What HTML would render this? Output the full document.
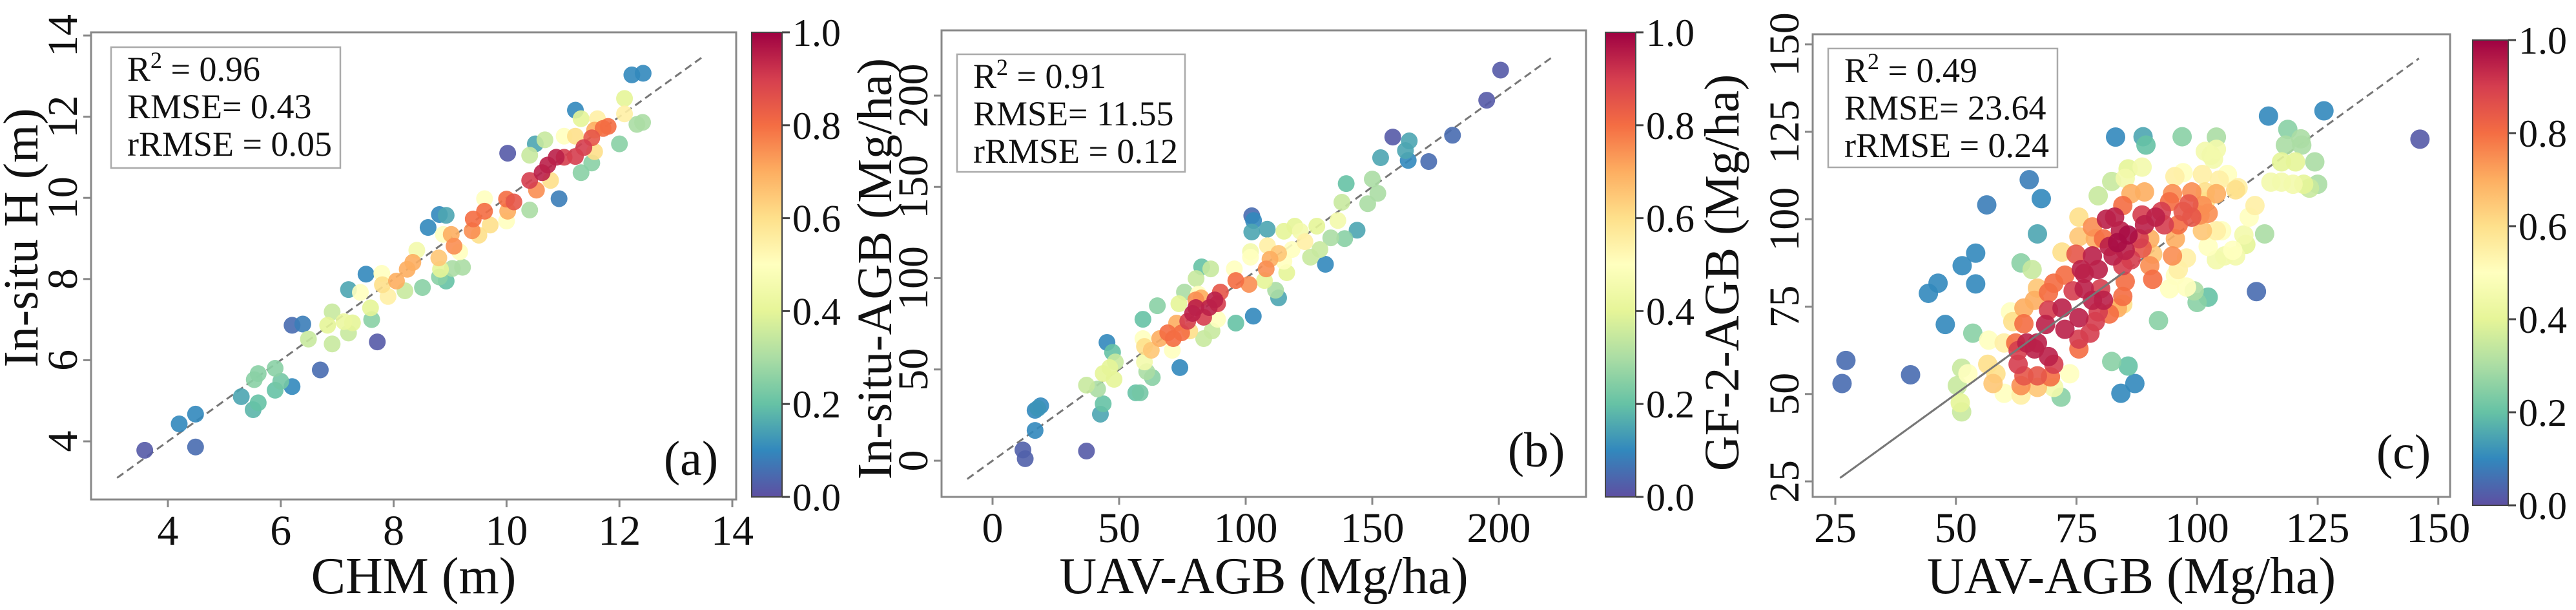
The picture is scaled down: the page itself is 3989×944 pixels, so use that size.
<!DOCTYPE html>
<html><head><meta charset="utf-8"><style>
html,body{margin:0;padding:0;background:#fff;}
svg{display:block;}
svg text{font-family:"Liberation Serif","DejaVu Serif",serif;}
</style></head><body>
<svg id="fig" width="3989" height="944" viewBox="0 0 3989 944" xmlns="http://www.w3.org/2000/svg" font-family="Liberation Serif, DejaVu Serif, serif">
<defs>
<linearGradient id="cmap" x1="0" y1="1" x2="0" y2="0">
<stop offset="0" stop-color="#5e4fa2"/><stop offset="0.1" stop-color="#3288bd"/><stop offset="0.2" stop-color="#66c2a5"/><stop offset="0.3" stop-color="#abdda4"/><stop offset="0.4" stop-color="#e6f598"/><stop offset="0.5" stop-color="#ffffbf"/><stop offset="0.6" stop-color="#fee08b"/><stop offset="0.7" stop-color="#fdae61"/><stop offset="0.8" stop-color="#f46d43"/><stop offset="0.9" stop-color="#d53e4f"/><stop offset="1" stop-color="#9e0142"/>
</linearGradient>
</defs>
</svg>
<script>
const aTicks=[4,6,8,10,12,14];
const bTicks=[0,50,100,150,200];
const cTicks=[25,50,75,100,125,150];
const cbarTicks=[0.0,0.2,0.4,0.6,0.8,1.0];
const aPts=[[3.59,3.78,.02],[4.49,3.86,.05],[4.2,4.43,.1],[4.49,4.67,.1],[5.3,5.1,.15],[5.51,4.78,.18],[5.6,4.95,.2],[5.53,5.52,.25],[5.6,5.67,.25],[5.9,5.8,.25],[5.9,5.26,.2],[6.0,5.48,.22],[6.2,5.35,.1],[6.7,5.76,.05],[6.2,6.86,.05],[6.39,6.89,.08],[6.49,6.52,.35],[6.91,6.4,.35],[6.91,7.19,.35],[6.83,6.86,.4],[7.12,6.95,.42],[7.27,6.92,.4],[7.2,6.67,.35],[7.2,7.74,.15],[7.41,7.67,.5],[7.59,7.29,.4],[7.61,7.0,.25],[7.71,6.45,.02],[7.51,8.12,.1],[7.79,8.14,.5],[7.8,7.86,.6],[7.9,7.57,.55],[8.05,7.95,.7],[8.24,8.24,.7],[8.34,8.41,.7],[8.2,7.71,.35],[8.41,8.71,.45],[8.51,7.79,.25],[8.8,8.52,.65],[8.83,8.24,.4],[8.81,8.05,.25],[8.93,7.95,.2],[9.04,8.26,.3],[9.22,8.29,.3],[8.88,9.1,.5],[9.02,9.1,.7],[9.07,8.81,.75],[9.17,8.67,.5],[8.81,9.59,.1],[8.93,9.57,.15],[8.61,9.27,.1],[9.39,9.19,.75],[9.51,9.08,.6],[9.41,9.48,.8],[9.61,9.67,.8],[9.71,9.33,.6],[9.61,9.98,.5],[10.0,9.97,.8],[10.13,9.9,.85],[10.02,9.67,.7],[10.0,9.43,.5],[10.41,9.7,.3],[10.93,9.98,.08],[10.02,11.1,.02],[10.41,11.05,.35],[10.51,11.33,.15],[10.68,11.43,.35],[10.41,10.43,.9],[10.53,10.19,.75],[10.63,10.62,.95],[10.73,10.81,.95],[10.88,11.0,.95],[11.02,11.0,.9],[10.78,10.43,.6],[11.02,11.52,.5],[11.22,11.52,.6],[11.37,11.24,.9],[11.22,11.02,.9],[11.51,11.48,.85],[11.56,11.67,.7],[11.71,11.71,.8],[11.8,11.76,.8],[11.61,11.95,.55],[11.32,11.95,.4],[11.32,10.62,.25],[11.51,10.86,.25],[11.56,11.14,.6],[11.22,12.16,.1],[12.0,11.33,.25],[12.09,12.07,.55],[12.09,12.45,.4],[12.31,11.81,.3],[12.41,11.86,.3],[12.22,13.03,.1],[12.42,13.07,.1]];
const bPts=[[12,5.9,.03],[12.9,1.1,.03],[37.1,5.3,.02],[16.8,16.6,.1],[16.8,27.6,.1],[19,30.1,.1],[17.9,28.7,.12],[42.6,25.5,.15],[43.7,31.2,.2],[41.5,39.3,.3],[37.1,41.4,.35],[43.7,47.8,.4],[48,44.6,.4],[46.3,51,.4],[48.5,54.1,.35],[47.4,59.4,.2],[45.2,64.8,.1],[56.6,37.2,.2],[58.3,37.2,.22],[63.1,45.6,.25],[60.9,48.8,.3],[60,54.1,.45],[59.4,66.9,.5],[60,62.6,.6],[62.7,60.5,.65],[74,51,.1],[71,60.5,.5],[66,66.9,.7],[69.2,70.1,.8],[71.4,66.9,.8],[74.7,70.1,.8],[77.9,71.1,.6],[83.4,66.9,.35],[86.7,71.1,.35],[59.4,77.5,.2],[65.1,84.9,.25],[72.7,75.4,.7],[77.1,76.4,.9],[79,80.7,.95],[80.3,83.9,.95],[83.4,78.6,.9],[85.6,83.9,.95],[87.8,88.1,.95],[88.9,86,.9],[90,92.4,.85],[82.4,89.2,.7],[80.3,88.1,.75],[81.3,91.3,.5],[75.8,92.4,.3],[73.6,86,.4],[86.2,105.1,.35],[82.6,106.2,.2],[80.4,99.8,.35],[88.9,77.5,.5],[96.1,75.4,.2],[103,79.2,.1],[96.1,98.7,.8],[101.3,96.6,.75],[95.5,105.1,.5],[101.9,114.6,.45],[101.9,111.5,.5],[107.4,98.7,.4],[108.1,105.1,.75],[109.6,110.4,.7],[113,113.6,.65],[108.6,117.8,.55],[111.8,93.4,.3],[113,89.2,.15],[116.2,103,.4],[115.1,109.3,.5],[118.3,115.7,.5],[125.6,111.5,.35],[129.3,115.7,.35],[123.4,120,.55],[121.6,125.7,.45],[115.1,125.7,.4],[119.4,128.5,.4],[128.1,128.5,.4],[133.6,122.1,.3],[136.4,131.6,.45],[131.5,107.6,.1],[139.1,121.7,.25],[102.4,134.2,.05],[103.1,131.6,.1],[102.4,125.3,.15],[108.5,126.8,.15],[138,141.6,.35],[144,126.3,.15],[139.7,151.8,.2],[148.2,140.8,.3],[152.2,146.5,.3],[150,154.3,.3],[153.3,166,.15],[164.2,164.5,.1],[163.1,169.9,.15],[164.6,175.2,.15],[158.1,177.3,.02],[172.3,163.9,.05],[181.7,178.3,.05],[195.2,197.5,.02],[200.7,214,.02]];
const cPts=[[26.4,53,.05],[27.2,59.6,.05],[40.6,55.5,.05],[44.3,78.8,.1],[46.3,81.7,.1],[47.8,69.9,.1],[51.3,86.7,.1],[54.1,90.3,.1],[54.1,81.5,.1],[56.4,104.1,.08],[65.2,111.3,.08],[67.7,105.9,.1],[66.9,95.8,.15],[83.1,123.5,.1],[88.8,123.6,.15],[89.4,121.2,.2],[96.9,123.6,.25],[104,123.5,.3],[114.8,129.5,.1],[126.3,131,.1],[118.8,125.7,.25],[121.5,123,.3],[118.3,121.2,.3],[121.7,121.2,.3],[146.2,122.9,.02],[112.3,79.3,.05],[100,76.2,.25],[102.3,77.7,.2],[99.4,79.5,.3],[92,71,.25],[82.3,59.3,.25],[85.7,58,.2],[87.1,53,.1],[84.2,50.2,.1],[71.8,49.1,.25],[53.5,67.4,.25],[63.5,87.5,.25],[65.8,85.6,.35],[79.5,106.7,.35],[82.3,110.8,.35],[85.7,114.4,.4],[88.6,114.9,.45],[85.1,111.7,.45],[50.3,52.4,.35],[51.2,57.4,.35],[50.9,47.5,.4],[51.2,44.9,.35],[56.8,65.4,.5],[52.5,55.8,.5],[70.3,51.9,.45],[73.6,55.8,.5],[57.7,53,.65],[58.3,55.8,.6],[56.6,58.5,.6],[60,50.2,.5],[63.5,49.7,.55],[63.5,52.4,.75],[64.1,55.2,.85],[62.9,58.5,.9],[62.9,62.4,.9],[66.3,62.9,.95],[66.9,64.6,.95],[69.2,60.7,.95],[70.3,58.5,.9],[66.9,55.2,.85],[69.6,54.9,.8],[66.9,51.9,.65],[64.7,64.6,.95],[62.4,64.6,.8],[61.8,70.7,.6],[64.1,70.1,.8],[61.3,73.5,.5],[64.1,74.6,.7],[66.3,76.8,.7],[68.6,69.9,.95],[69.2,74,.9],[69.2,79,.8],[66.9,80.3,.65],[70.3,81.7,.8],[72.6,84,.8],[74.3,79.5,.9],[72,74.6,.95],[72.6,68.5,.95],[75.5,71.8,.95],[75.5,65.7,.9],[75.5,62.9,.8],[77.8,67.4,.9],[78.9,70.7,.9],[79.5,73.5,.9],[81.8,72.9,.8],[80.6,76.8,.95],[78.3,76.8,.95],[76.6,80.1,.95],[80,80.1,.9],[76.6,84.5,.95],[79.5,85.6,.95],[76,85.6,.95],[78.3,89.5,.95],[74.9,90,.85],[72,90.6,.6],[75.5,95,.65],[78.3,97.8,.75],[78.9,94.4,.7],[80.6,94.4,.8],[81.2,100,.95],[82.9,100.6,.95],[84.1,96.7,.95],[81.8,92.2,.95],[83.5,93.3,.98],[85.7,95.5,.98],[85.1,91.1,.95],[82.6,89.5,.95],[86.3,88.4,.9],[84.6,86.7,.9],[88,94.4,.9],[88.6,91.7,.85],[84.6,103.9,.8],[86.3,107.3,.7],[89.1,107.8,.7],[88.6,101.2,.9],[89.1,98.4,.95],[91.4,100.6,.95],[93.2,98.4,.9],[92.6,102.2,.9],[94.3,105,.8],[94.9,107.3,.75],[97.1,102.2,.85],[98.3,104.4,.85],[98.9,107.8,.75],[98.9,100.6,.85],[96.1,98.4,.8],[95.5,94.4,.7],[94.9,89.5,.75],[96.1,85.6,.55],[97.8,88.9,.55],[90.2,86.7,.75],[90.8,82.8,.8],[90.8,90,.65],[85.1,82.2,.8],[84.6,77.9,.8],[83.5,74.6,.7],[84.6,75.7,.6],[90.2,94.4,.7],[94.3,80.1,.5],[97.8,80.6,.5],[100.6,101.2,.75],[101.1,103.9,.75],[101.7,105,.6],[102.3,101.7,.75],[101.1,96.7,.65],[104,96.7,.55],[105.1,96.7,.5],[102.3,92.2,.5],[104,88.4,.45],[105.7,89.5,.45],[108,89.5,.45],[107.4,91.1,.5],[109.7,95.5,.45],[110.8,100.6,.5],[112,103.9,.55],[110.1,92.8,.4],[114,95.8,.3],[95.5,83.9,.5],[101.7,107.8,.6],[104,107.3,.7],[104.6,111.2,.55],[106.3,112.8,.5],[108,108.4,.6],[108.5,109,.55],[101.1,112.8,.55],[95.4,112.2,.55],[97.1,113.3,.5],[101.7,119.4,.45],[102.9,118.3,.4],[104,120,.45],[103.4,117.2,.45],[115.3,110.6,.45],[117.5,110.6,.45],[119.9,110,.45],[122.1,110,.4],[125,110,.3],[123.3,108.9,.35],[117.5,116.4,.4],[120.4,116.4,.4],[124.4,116.4,.3],[75.5,100.6,.6],[60,64.6,.55]];

const NS="http://www.w3.org/2000/svg";
const FONT="Liberation Serif, DejaVu Serif, serif";
const svg=document.getElementById('fig');
function mk(tag,attrs,parent){const e=document.createElementNS(NS,tag);for(const k in attrs)e.setAttribute(k,attrs[k]);if(tag==='text')e.setAttribute('font-family',FONT);(parent||svg).appendChild(e);return e;}
const stops=[[0,[94,79,162]],[.1,[50,136,189]],[.2,[102,194,165]],[.3,[171,221,164]],[.4,[230,245,152]],[.5,[255,255,191]],[.6,[254,224,139]],[.7,[253,174,97]],[.8,[244,109,67]],[.9,[213,62,79]],[1,[158,1,66]]];
function cmap(v){v=Math.max(0,Math.min(1,v));for(let i=0;i<stops.length-1;i++){const a=stops[i],b=stops[i+1];if(v<=b[0]){const t=(v-a[0])/(b[0]-a[0]);const c=a[1].map((x,j)=>Math.round(x+(b[1][j]-x)*t));return `rgb(${c[0]},${c[1]},${c[2]})`;}}return 'rgb(158,1,66)';}

function panel(p){
  const g=mk('g',{});
  
  
  const sx=v=>p.x0+(v-p.xv0)*p.xk, sy=v=>p.y0-(v-p.yv0)*p.yk;
  const fr=mk('rect',{x:p.L,y:p.T,width:p.R-p.L,height:p.B-p.T,fill:'#fff',stroke:'#888','stroke-width':3},g);
  
  
  const ln=mk('line',{x1:sx(p.l0),y1:sy(p.l0),x2:sx(p.l1),y2:sy(p.l1),stroke:'#777','stroke-width':3,'stroke-dasharray':'12,7'},g);
  
  
  const pts=p.pts.slice().sort((a,b)=>a[2]-b[2]);
  pts.forEach(d=>{
    const c=mk('circle',{cx:sx(d[0]),cy:sy(d[1]),r:p.r,fill:cmap(d[2]),'fill-opacity':0.9},g);
    
    
  });
  if(p.solidTo!==undefined){
    const s=mk('line',{x1:sx(p.l0),y1:sy(p.l0),x2:sx(p.solidTo),y2:sy(p.solidTo),stroke:'#777','stroke-width':3},g);
    
    
  }
  p.xt.forEach(v=>{
    const x=sx(v);
    mk('line',{x1:x,y1:p.B,x2:x,y2:p.B+12,stroke:'#888','stroke-width':3},g);
    const t=mk('text',{x:x,y:p.B+70,'font-size':66,'text-anchor':'middle',fill:'#111'},g);
    t.textContent=v;
    
    
  });
  p.yt.forEach(v=>{
    const y=sy(v);
    mk('line',{x1:p.L-12,y1:y,x2:p.L,y2:y,stroke:'#888','stroke-width':3},g);
    const tx=p.L-22;
    const t=mk('text',{x:tx,y:y,'font-size':66,'text-anchor':'middle',fill:'#111',transform:`rotate(-90 ${tx} ${y})`},g);
    t.textContent=v;
    
    
  });
  const xl=mk('text',{x:(p.L+p.R)/2,y:918,'font-size':80,'text-anchor':'middle',fill:'#111'},g);
  xl.textContent=p.xlab;
  
  
  const yl=mk('text',{x:p.ytx,y:p.yty,'font-size':76,'text-anchor':'middle',fill:'#111',transform:`rotate(-90 ${p.ytx} ${p.yty})`},g);
  yl.textContent=p.ylab;
  
  
  const bx=mk('rect',{x:p.bx[0],y:p.bx[1],width:p.bx[2]-p.bx[0],height:p.bx[3]-p.bx[1],fill:'#fff',stroke:'#aaa','stroke-width':2.5},g);
  
  
  p.stats.forEach((s,i)=>{
    const t=mk('text',{x:p.bx[0]+25,y:p.bx[1]+52+i*58,'font-size':54,fill:'#111'},g);
    if(i===0){t.innerHTML='R<tspan dy="-20" font-size="36">2</tspan><tspan dy="20"> = '+s+'</tspan>';}
    else t.textContent=s;
    
    
  });
  const pl=mk('text',{x:p.pl[0],y:p.pl[1],'font-size':76,'text-anchor':'middle',fill:'#111'},g);
  pl.textContent=p.plab;
  
  
  const cb=mk('rect',{x:p.cb[0],y:p.cb[1],width:p.cb[2]-p.cb[0],height:p.cb[3]-p.cb[1],fill:'url(#cmap)',stroke:'#444','stroke-width':2},g);
  
  
  cbarTicks.forEach(v=>{
    const y=p.cb[3]-v*(p.cb[3]-p.cb[1]);
    mk('line',{x1:p.cb[2],y1:y,x2:p.cb[2]+12,y2:y,stroke:'#444','stroke-width':3},g);
    const t=mk('text',{x:p.cb[2]+16,y:y+21,'font-size':60,fill:'#111'},g);
    t.textContent=v.toFixed(1);
    
    
  });
}
panel({name:'panel-a',L:141,R:1140,T:50,B:773,x0:260,xv0:4,xk:87.4,y0:683,yv0:4,yk:62.8,pts:aPts,r:13,l0:3.1,l1:13.5,
  xt:aTicks,yt:aTicks,xlab:'CHM (m)',ylab:'In-situ H (m)',ytx:58,yty:368,bx:[172,73,527,260],stats:['0.96','RMSE= 0.43','rRMSE = 0.05'],
  pl:[1070,735],plab:'(a)',cb:[1164,50,1211,769]});
panel({name:'panel-b',L:1458,R:2456,T:47,B:769,x0:1537,xv0:0,xk:3.92,y0:713,yv0:0,yk:2.825,pts:bPts,r:13,l0:-10,l1:222,
  xt:bTicks,yt:bTicks,xlab:'UAV-AGB (Mg/ha)',ylab:'In-situ-AGB (Mg/ha)',ytx:1380,yty:416,bx:[1482,84,1835,266],stats:['0.91','RMSE= 11.55','rRMSE = 0.12'],
  pl:[2379,722],plab:'(b)',cb:[2486,50,2533,769]});
panel({name:'panel-c',L:2807,R:3794,T:53,B:769,x0:2842,xv0:25,xk:7.47,y0:745,yv0:25,yk:5.41,pts:cPts,r:15,l0:26,l1:146,solidTo:85,
  xt:cTicks,yt:cTicks,xlab:'UAV-AGB (Mg/ha)',ylab:'GF-2-AGB (Mg/ha)',ytx:2692,yty:422,bx:[2831,75,3186,259],stats:['0.49','RMSE= 23.64','rRMSE = 0.24'],
  pl:[3722,725],plab:'(c)',cb:[3829,62,3884,782]});
</script>
</body></html>
